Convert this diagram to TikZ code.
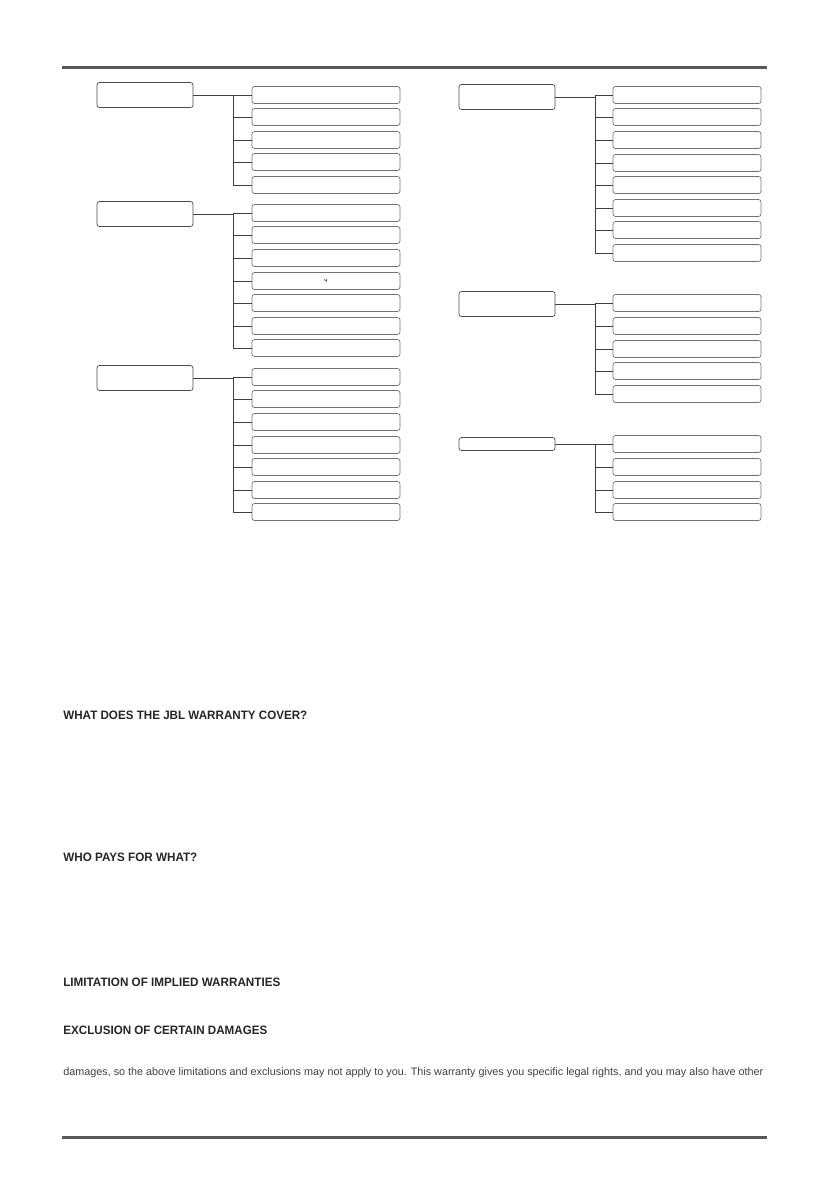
\documentclass[tikz,border=0pt]{standalone}
\usepackage{fontspec}
\usepackage{graphicx}
\setmainfont{Liberation Sans}
\usetikzlibrary{positioning}
\newcommand{\headtext}[2]{\resizebox{#1}{8.5pt}{\fontsize{9}{9}\selectfont\bfseries #2}}

\begin{document}
\begin{tikzpicture}[x=1pt,y=-1pt,line width=0.7pt]
  \tikzset{parentbox/.style={draw=black!70,rounded corners=2.5pt,minimum width=96pt,minimum height=25pt,inner sep=0pt},
           childbox/.style={draw=black!55,rounded corners=2.5pt,minimum width=148pt,minimum height=17pt,inner sep=0pt,font=\fontsize{6}{6}\selectfont},
           branch/.style={draw=black!75},
           heading/.style={anchor=west,inner sep=0pt,text=black!85},
           rulebar/.style={draw=black!65,line width=3pt}}
  \useasboundingbox (0,0) rectangle (839,1191);

  \draw[rulebar] (62,67) -- (767,67);
  \draw[rulebar] (62,1137) -- (767,1137);

  % left column
  \node[parentbox] (LA) at (145,95)  {};
  \node[parentbox] (LB) at (145,214) {};
  \node[parentbox] (LC) at (145,378) {};
  % right column
  \node[parentbox] (RA) at (507,97)  {};
  \node[parentbox] (RB) at (507,304) {};
  \node[parentbox,minimum height=13pt] (RC) at (507,444) {};

  \foreach \i/\y in {1/95,2/117,3/140,4/162,5/185}
    \node[childbox] (LA\i) at (326,\y) {};
  \foreach \i/\y in {1/213,2/235,3/258,4/281,5/303,6/326,7/348}
    \node[childbox] (LB\i) at (326,\y) {\ifnum\i=4 ч\fi};
  \foreach \i/\y in {1/377,2/399,3/422,4/445,5/467,6/490,7/512}
    \node[childbox] (LC\i) at (326,\y) {};
  \foreach \i/\y in {1/95,2/117,3/140,4/163,5/185,6/208,7/230,8/253}
    \node[childbox] (RA\i) at (687,\y) {};
  \foreach \i/\y in {1/303,2/326,3/349,4/371,5/394}
    \node[childbox] (RB\i) at (687,\y) {};
  \foreach \i/\y in {1/444,2/467,3/490,4/512}
    \node[childbox] (RC\i) at (687,\y) {};

  % connectors
  \foreach \p/\n/\tx in {LA/5/233,LB/7/233,LC/7/233,RA/8/595,RB/5/595,RC/4/595} {
    \coordinate (\p top) at (\tx,0 |- \p1.west);
    \path[branch] (\p.east) -- (\p.east -| \p top);
    \path[branch] (\p top) |- (\p\n.west);
    \foreach \k in {1,...,\n}
      \path[branch] (\p\k.west -| \p top) -- (\p\k.west);
  }

  \node[heading] (h1) at (63,715)  {\headtext{244pt}{WHAT DOES THE JBL WARRANTY COVER?}};
  \node[heading] (h2) at (63,857)  {\headtext{134pt}{WHO PAYS FOR WHAT?}};
  \node[heading] (h3) at (63,982)  {\headtext{217pt}{LIMITATION OF IMPLIED WARRANTIES}};
  \node[heading] (h4) at (63,1030) {\headtext{204pt}{EXCLUSION OF CERTAIN DAMAGES}};
  \node[heading,text=black!75] (body) at (63,1073)
    {\resizebox{700pt}{!}{\fontsize{9}{9}\selectfont damages, so the above limitations and exclusions may not apply to you. This warranty gives you specific legal rights, and you may also have other}};
\end{tikzpicture}
\end{document}
